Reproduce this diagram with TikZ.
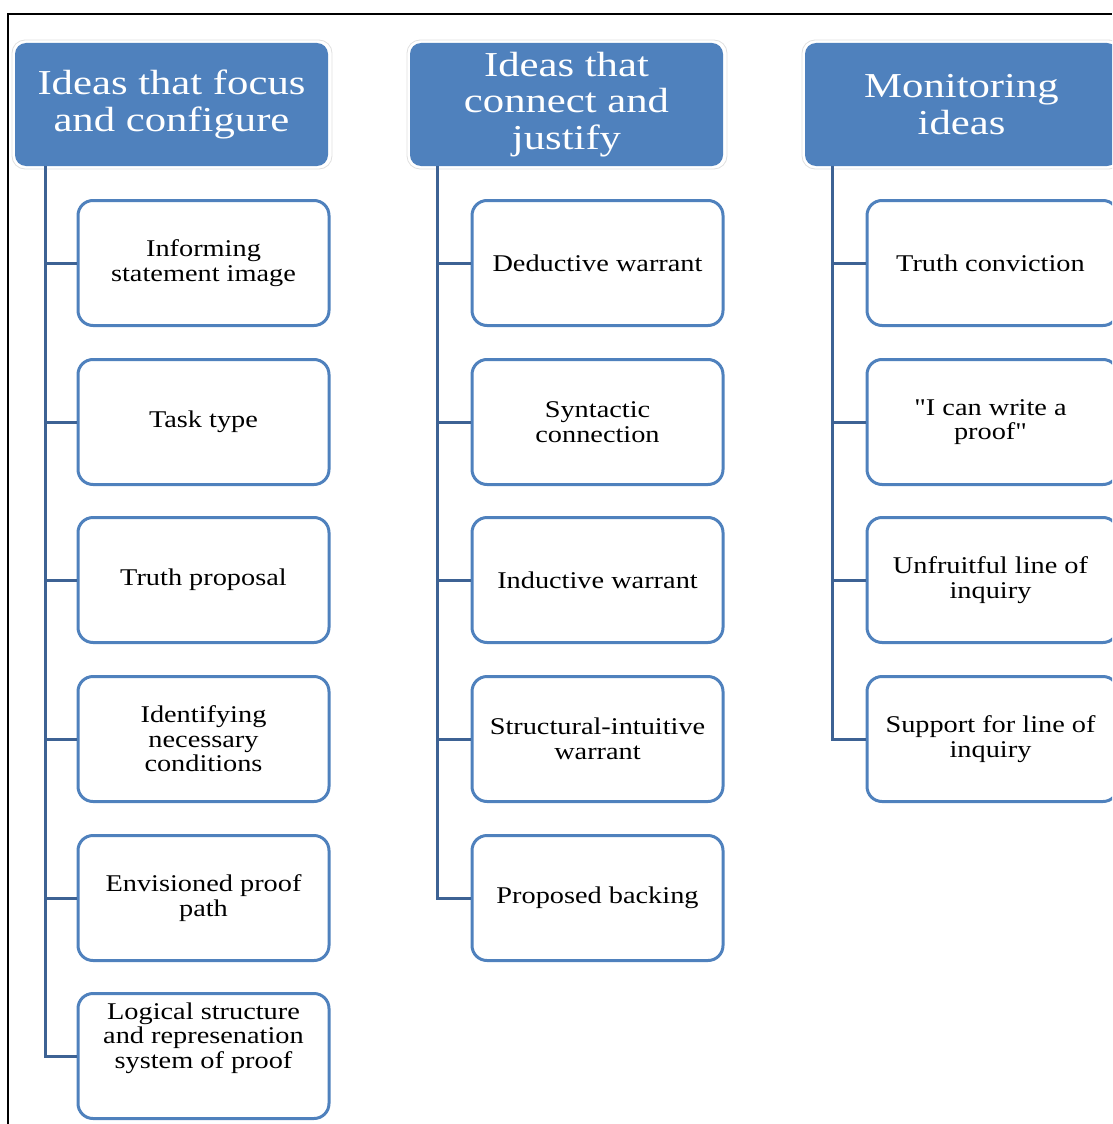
\documentclass[tikz,border=0pt]{standalone}
\usepackage{fontspec}
\setmainfont{Liberation Serif}
\newfontfamily\itemfont[FakeStretch=1.18]{Liberation Serif}
\newfontfamily\headfont[FakeStretch=1.22]{Liberation Serif}
\definecolor{hdrfill}{HTML}{4F81BD}
\definecolor{boxline}{HTML}{4F81BD}
\definecolor{treeline}{HTML}{3D6294}
\begin{document}
\begin{tikzpicture}[x=1pt,y=-1pt,
  header/.style={rectangle, rounded corners=11pt, fill=hdrfill, draw=none,
    minimum width=313pt, minimum height=123pt, text=white, align=center,
    font=\headfont\fontsize{35}{36.5}\selectfont, inner sep=0pt},
  halo/.style={draw=black!12, line width=0.8pt, fill=white, rounded corners=13pt},
  itembox/.style={rectangle, rounded corners=15pt, draw=boxline, line width=3pt,
    fill=white, minimum width=251pt, minimum height=125pt, inner sep=0pt},
  itemtext/.style={align=center, font=\itemfont\fontsize{24}{24.5}\selectfont, inner sep=0pt},
  tree/.style={draw=treeline, line width=3pt}
]
\useasboundingbox (0,0) rectangle (1112,1124);
\clip (0,0) rectangle (1112,1124);
% frame lines along the top and left
\draw[black, line width=1.2pt] (8,1124) -- (8,14) -- (1112,14);

% white halos behind the headers
\foreach \x in {12,407,802}
  \draw[halo] (\x,40) rectangle ++(320,129);

% headers
\node[header] (h1) at (171.5,104.5) {Ideas that focus\\and configure};
\node[header] (h2) at (566.5,104.5) {Ideas that\\connect and\\justify};
\node[header] (h3) at (961.5,104.5) {Monitoring\\ideas};

% column 1 boxes
\foreach \n/\y in {1/263,2/422,3/580,4/739,5/898,6/1056}
  \node[itembox] (a\n) at (203.5,\y) {};
% column 2 boxes
\foreach \n/\y in {1/263,2/422,3/580,4/739,5/898}
  \node[itembox] (b\n) at (597.5,\y) {};
% column 3 boxes
\foreach \n/\y in {1/263,2/422,3/580,4/739}
  \node[itembox] (c\n) at (992.5,\y) {};

% box labels
\node[itemtext] at (a1) {Informing\\statement image};
\node[itemtext] at (a2) {Task type};
\node[itemtext] at (a3) {Truth proposal};
\node[itemtext] at (a4) {Identifying\\necessary\\conditions};
\node[itemtext] at (a5) {Envisioned proof\\path};
\node[itemtext] at ([yshift=18pt]a6.center) {Logical structure\\and represenation\\system of proof};

\node[itemtext] at (b1) {Deductive warrant};
\node[itemtext] at (b2) {Syntactic\\connection};
\node[itemtext] at (b3) {Inductive warrant};
\node[itemtext] at (b4) {Structural-intuitive\\warrant};
\node[itemtext] at (b5) {Proposed backing};

\node[itemtext] at ([xshift=-2pt]c1.center) {Truth conviction};
\node[itemtext] at ([xshift=-2pt]c2.center) {"I can write a\\proof"};
\node[itemtext] at ([xshift=-2pt]c3.center) {Unfruitful line of\\inquiry};
\node[itemtext] at ([xshift=-2pt]c4.center) {Support for line of\\inquiry};

% tree connectors
\coordinate (t1) at ([xshift=31pt]h1.south west);
\coordinate (t2) at ([xshift=28pt]h2.south west);
\coordinate (t3) at ([xshift=28pt]h3.south west);
\draw[tree] (t1) |- (a6.west);
\foreach \n in {1,...,5} \draw[tree] (a\n.west) -- (a\n.west -| t1);
\draw[tree] (t2) |- (b5.west);
\foreach \n in {1,...,4} \draw[tree] (b\n.west) -- (b\n.west -| t2);
\draw[tree] (t3) |- (c4.west);
\foreach \n in {1,...,3} \draw[tree] (c\n.west) -- (c\n.west -| t3);
\end{tikzpicture}
\end{document}
